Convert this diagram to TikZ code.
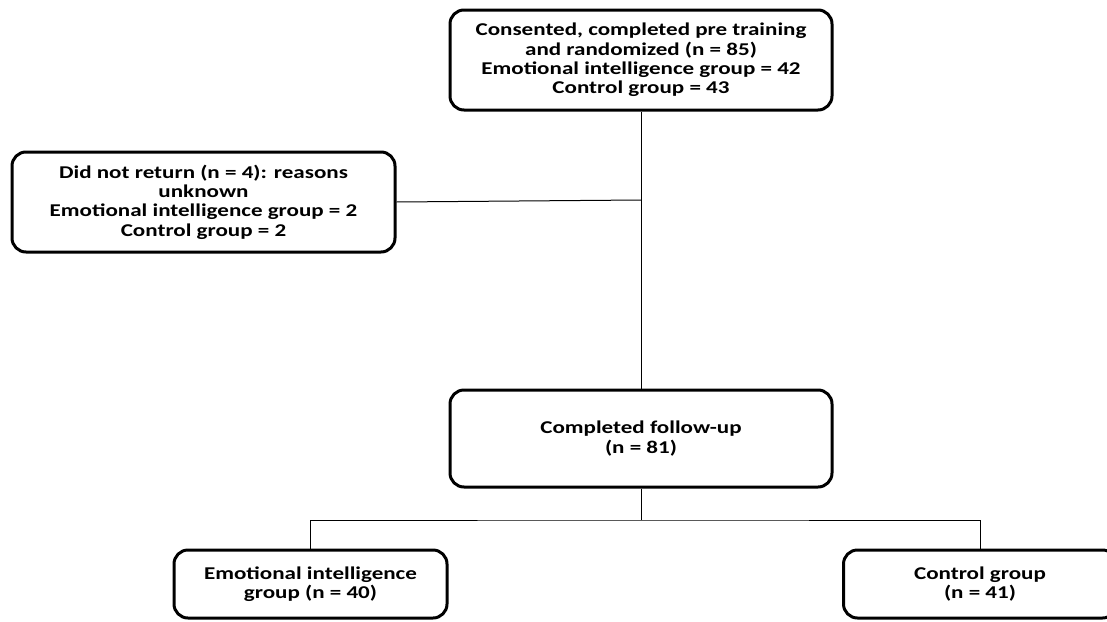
\documentclass[tikz,border=0pt]{standalone}
\usepackage{fontspec}
\setmainfont{Carlito}
\newfontfamily\wideboxfont[FakeStretch=1.28]{Carlito}
\begin{document}
\begin{tikzpicture}[x=1pt,y=-1pt,
  box/.style={draw=black,line width=3pt,rounded corners=14pt,inner sep=0pt,
    align=center,font=\wideboxfont\fontsize{18}{19.3}\selectfont\bfseries},
  conn/.style={draw=black,line width=1pt}]
\useasboundingbox (0,0) rectangle (1107,621);
\node[box,minimum width=382pt,minimum height=100pt] (top) at (641,60)
  {Consented, completed pre training\\and randomized (n = 85)\\Emotional intelligence group = 42\\Control group = 43};
\node[box,minimum width=383pt,minimum height=100pt] (left) at (203.5,202)
  {Did not return (n = 4): reasons\\unknown\\Emotional intelligence group = 2\\Control group = 2};
\node[box,minimum width=382pt,minimum height=97pt] (mid) at (641,438.5)
  {Completed follow-up\\(n = 81)};
\node[box,minimum width=273pt,minimum height=68pt] (bl) at (310.5,584)
  {Emotional intelligence\\group (n = 40)};
\node[box,minimum width=273pt,minimum height=68pt] (br) at (980,584)
  {Control group\\(n = 41)};
\coordinate (j1) at (641,200);
\coordinate (j2) at (641,520);
\draw[conn] (top.south) -- (mid.north);
\draw[conn] (left.east) -- (j1);
\draw[conn] (mid.south) -- (j2);
\draw[conn] (bl.north) |- (j2) -| (br.north);
\end{tikzpicture}
\end{document}
